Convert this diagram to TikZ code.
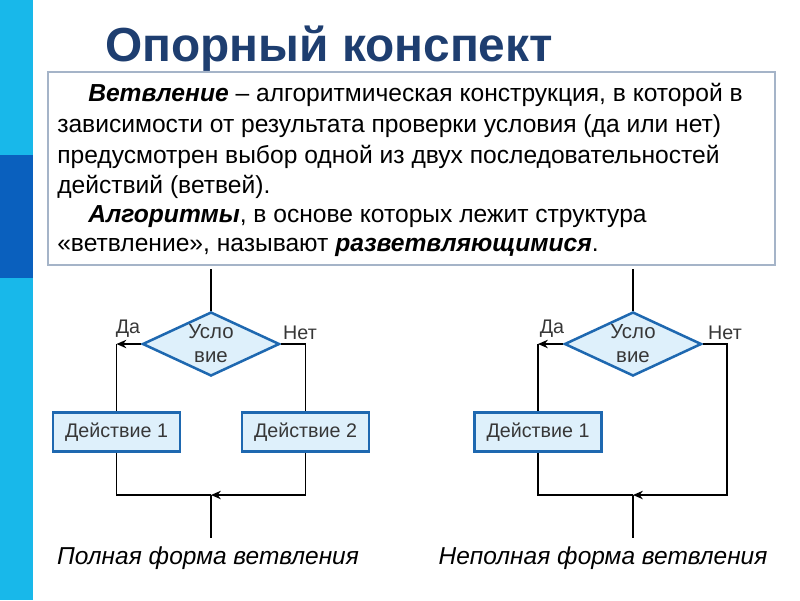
\documentclass[tikz,border=0pt]{standalone}
\usepackage{fontspec}
\setmainfont{Liberation Sans}
\usetikzlibrary{shapes.geometric,arrows.meta}

\definecolor{barCyan}{RGB}{24,184,234}
\definecolor{barDark}{RGB}{10,96,190}
\definecolor{titleBlue}{RGB}{30,62,112}
\definecolor{frameGray}{RGB}{165,180,200}
\definecolor{flowBlue}{RGB}{30,104,176}
\definecolor{flowFill}{RGB}{222,240,251}
\definecolor{flowText}{RGB}{55,55,55}

\begin{document}
\begin{tikzpicture}[
    x=0.025cm, y=-0.025cm,
    every node/.style={font=\fontsize{17.5}{21}\selectfont, anchor=west, inner sep=0pt},
    flowtxt/.style={font=\fontsize{14}{17}\selectfont, text=flowText, anchor=center},
    action/.style={flowtxt, draw=flowBlue, line width=1.8pt, fill=flowFill,
                   minimum width=3.175cm, minimum height=0.975cm},
    cond/.style={flowtxt, font=\fontsize{14.5}{17}\selectfont, diamond, aspect=2.14,
                 draw=flowBlue, line width=1.8pt, fill=flowFill,
                 minimum width=3.425cm, minimum height=1.6cm, align=center},
    flow/.style={line width=1.1pt, black},
    flowarr/.style={flow, -{Stealth[length=7pt,width=6pt]}},
    caption/.style={font=\itshape\fontsize{17.4}{21}\selectfont, anchor=center}
  ]
  \useasboundingbox (0,0) rectangle (800,600);

  % Side bar
  \fill[barCyan] (0,0) rectangle (33,600);
  \fill[barDark] (0,155) rectangle (33,278);

  % Title
  \node[font=\bfseries\fontsize{34}{40}\selectfont, text=titleBlue, anchor=center]
    (title) at (329,49) {Опорный конспект};

  % Definition
  \draw[frameGray, fill=white, line width=0.8pt] (48,72) rectangle (775,265);
  \node (def1) at (88,95) {\textbf{\textit{Ветвление}} – алгоритмическая конструкция, в которой в};
  \node (def2) at (57,126) {зависимости от результата проверки условия (да или нет)};
  \node (def3) at (57,157) {предусмотрен выбор одной из двух последовательностей};
  \node (def4) at (57,187) {действий (ветвей).};
  \node (def5) at (88,217) {\textbf{\textit{Алгоритмы}}, в основе которых лежит структура};
  \node (def6) at (57,247) {«ветвление», называют \textbf{\textit{разветвляющимися}}.};

  % Full form
  \coordinate (inA) at (211,269);
  \node[cond] (condA) at (211,344) {Усло\\вие};
  \node[action] (actA1) at (116.5,432) {Действие 1};
  \node[action] (actA2) at (305.5,432) {Действие 2};
  \coordinate (joinA) at (211,495);
  \coordinate (outA) at (211,538);
  \node[flowtxt] (yesA) at (128,329) {Да};
  \node[flowtxt] (noA) at (300,333) {Нет};

  \draw[flow] (inA) -- (condA.north);
  \draw[flowarr] (condA.west) -- (condA.west -| actA1.north);
  \draw[flow] (condA.west -| actA1.north) -- (actA1.north);
  \draw[flow] (condA.east) -| (actA2.north);
  \draw[flow] (actA1.south) |- (joinA);
  \draw[flowarr] (actA2.south) |- (joinA);
  \draw[flow] (joinA) -- (outA);

  % Short form
  \coordinate (inB) at (633,269);
  \node[cond] (condB) at (633,344) {Усло\\вие};
  \node[action] (actB1) at (538,432) {Действие 1};
  \coordinate (bendB) at (727,495);
  \coordinate (joinB) at (633,495);
  \coordinate (outB) at (633,538);
  \node[flowtxt] (yesB) at (552,329) {Да};
  \node[flowtxt] (noB) at (725,333) {Нет};

  \draw[flow] (inB) -- (condB.north);
  \draw[flowarr] (condB.west) -- (condB.west -| actB1.north);
  \draw[flow] (condB.west -| actB1.north) -- (actB1.north);
  \draw[flowarr] (condB.east) -| (bendB) -- (joinB);
  \draw[flow] (actB1.south) |- (joinB);
  \draw[flow] (joinB) -- (outB);

  % Captions
  \node[caption] (capA) at (208,558) {Полная форма ветвления};
  \node[caption] (capB) at (603,558) {Неполная форма ветвления};
\end{tikzpicture}
\end{document}
